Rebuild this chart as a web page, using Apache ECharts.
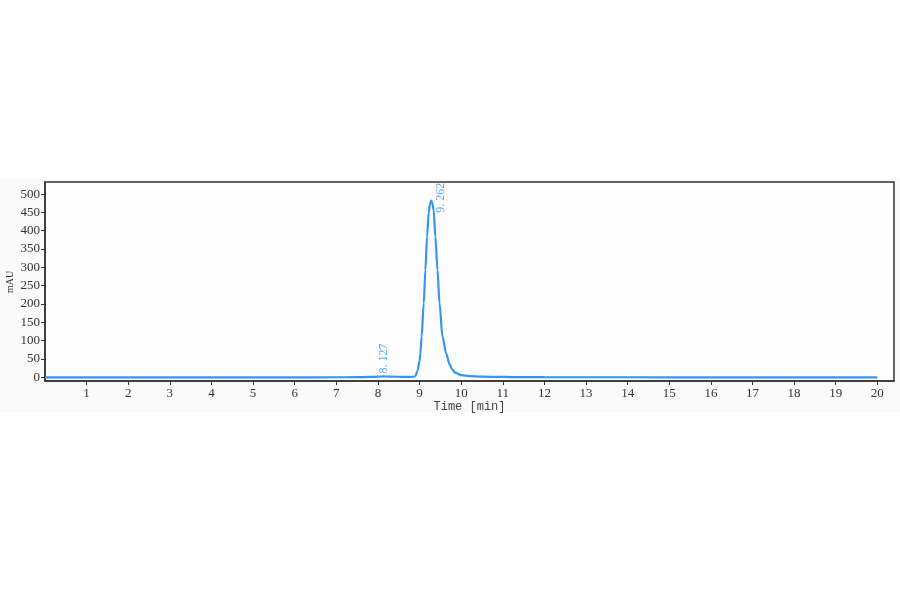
<!DOCTYPE html>
<html>
<head>
<meta charset="utf-8">
<style>
  html, body { margin: 0; padding: 0; background: #fff; }
  #chart { width: 900px; height: 594px; }
</style>
<script src="https://cdn.jsdelivr.net/npm/echarts@6/dist/echarts.min.js"></script>
</head>
<body>
<div id="chart"></div>
<script>
// retention time [min] / absorbance [mAU]
var times = [0, 2, 4, 6, 7, 7.5, 7.8, 8.0, 8.127, 8.3, 8.6, 8.85, 8.9, 8.95, 9.0, 9.02, 9.05, 9.1, 9.14, 9.18, 9.22, 9.25, 9.28, 9.31, 9.34, 9.38, 9.43, 9.48, 9.55, 9.64, 9.72, 9.78, 9.86, 10.0, 10.2, 10.5, 11.0, 11.5, 12, 14, 16, 18, 20];
var signal = [0, 0, 0, 0.1, 0.2, 0.4, 1, 2, 2.5, 2, 1.2, 1.6, 3, 18, 45, 65, 111, 202, 293, 384, 450, 472, 482, 474, 455, 384, 293, 202, 111, 65, 36, 22, 12, 6, 3.5, 2, 1, 0.6, 0.4, 0.2, 0.1, 0, 0];

// peak labels
var peakTimes = [8.127, 9.262];
var peakHeights = [2.5, 482];
var peakNames = ['8. 127', '9. 262'];

var xTicks = [1, 2, 3, 4, 5, 6, 7, 8, 9, 10, 11, 12, 13, 14, 15, 16, 17, 18, 19, 20];
var yTicks = [0, 50, 100, 150, 200, 250, 300, 350, 400, 450, 500];

var trace = times.map((t, i) => [t, signal[i]]);
var peaks = peakTimes.map((t, i) => [t, peakHeights[i], peakNames[i]]);

// label offsets from peak apex (px)
var labelShift = [[1, -3], [10, 12]];

var chart = echarts.init(document.getElementById('chart'));

var axisText = { color: '#333', fontFamily: 'Liberation Serif', fontSize: 13 };

chart.setOption({
    animation: false,
    graphic: [{
        type: 'rect',
        z: -10,
        silent: true,
        shape: { x: 0, y: 178, width: 900, height: 234 },
        style: { fill: '#fafafa' }
    }, {
        // y axis title
        type: 'text',
        x: 10,
        y: 282,
        rotation: Math.PI / 2,
        style: {
            text: 'mAU',
            fill: '#333',
            font: '10px "Liberation Serif"',
            align: 'center',
            verticalAlign: 'middle'
        }
    }],
    grid: {
        left: 45, top: 182, right: 6, bottom: 213,
        containLabel: false,
        outerBoundsMode: 'none',
        show: true,
        backgroundColor: '#fdfdfd',
        borderColor: '#333',
        borderWidth: 1.5
    },
    xAxis: {
        type: 'value',
        min: 0,
        max: 20.4,
        name: 'Time [min]',
        nameLocation: 'middle',
        nameGap: 20,
        nameTextStyle: { color: '#444', fontFamily: 'Liberation Mono', fontSize: 12 },
        axisLine: { show: true, onZero: false, lineStyle: { color: '#333', width: 1.5 } },
        axisTick: { show: true, length: 4, customValues: xTicks, lineStyle: { color: '#333' } },
        axisLabel: Object.assign({ customValues: xTicks, margin: 6 }, axisText),
        splitLine: { show: false }
    },
    yAxis: {
        type: 'value',
        min: -10,
        max: 533,
        axisLine: { show: true, onZero: false, lineStyle: { color: '#333', width: 1.5 } },
        axisTick: { show: true, length: 4, customValues: yTicks, lineStyle: { color: '#333' } },
        axisLabel: Object.assign({ customValues: yTicks, margin: 5 }, axisText),
        splitLine: { show: false }
    },
    series: [{
        type: 'line',
        data: trace,
        showSymbol: false,
        smooth: 0.3,
        smoothMonotone: 'x',
        lineStyle: { color: '#3595f2', width: 2.2 },
        z: 3
    }, {
        type: 'custom',
        clip: true,
        data: peaks,
        z: 4,
        renderItem: (params, api) => {
            let p = api.coord([api.value(0), api.value(1)]);
            let s = labelShift[params.dataIndex];
            return {
                type: 'text',
                x: p[0] + s[0],
                y: p[1] + s[1],
                rotation: Math.PI / 2,
                style: {
                    text: peakNames[params.dataIndex],
                    fill: '#5aa9f2',
                    font: '12px "Liberation Serif"',
                    align: 'left',
                    verticalAlign: 'middle'
                }
            };
        }
    }]
});
</script>
</body>
</html>
